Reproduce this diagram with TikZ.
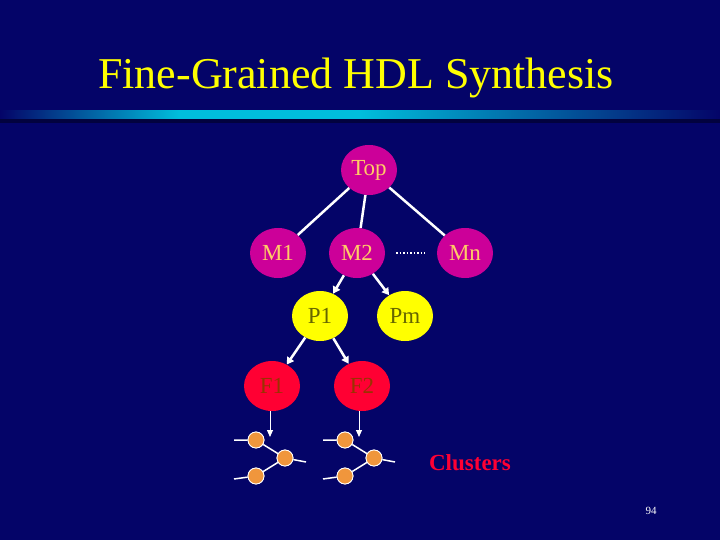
\documentclass[tikz,border=0pt]{standalone}
\usepackage{fontspec}
\setmainfont{Liberation Serif}
\usetikzlibrary{arrows.meta,shapes.geometric}
\definecolor{bg}{RGB}{4,4,104}
\definecolor{mag}{RGB}{204,0,153}
\definecolor{ylw}{RGB}{255,255,0}
\definecolor{rd}{RGB}{255,0,51}
\definecolor{tan}{RGB}{255,204,102}
\definecolor{olv}{RGB}{102,102,0}
\definecolor{brn}{RGB}{153,51,0}
\definecolor{org}{RGB}{240,150,60}
\definecolor{bar}{RGB}{0,190,220}
\tikzset{
 nd/.style={ellipse,minimum width=56pt,minimum height=50pt,inner sep=0pt,font=\fontsize{23}{23}\selectfont},
 mnode/.style={nd,fill=mag,text=tan},
 pnode/.style={nd,fill=ylw,text=olv},
 fnode/.style={nd,fill=rd,text=brn},
 edge/.style={white,line width=2.5pt},
 arr/.style={white,line width=2.5pt,-{Triangle[width=8pt,length=7pt]}},
 sarr/.style={white,line width=1pt,-{Triangle[width=6pt,length=7pt]}},
 dot/.style={circle,fill=org,draw=white,line width=0.8pt,minimum size=16pt,inner sep=0pt},
 wire/.style={white,line width=1.5pt}
}
\begin{document}
\begin{tikzpicture}[x=1pt,y=-1pt]
\fill[bg] (0,0) rectangle (720,540);
\useasboundingbox (0,0) rectangle (720,540);
\node[text=ylw,font=\fontsize{44}{44}\selectfont] (title) at (356,78) {Fine-Grained HDL Synthesis};
\shade[left color=bg,right color=bar,middle color=bar] (0,111) rectangle (360,121);
\shade[left color=bar,right color=bg] (360,111) rectangle (720,121);
\fill[bg!60!black] (0,119) rectangle (720,123);
\node[mnode] (top) at (369,170) {Top};
\node[mnode] (m1) at (278,253) {M1};
\node[mnode] (m2) at (357,253) {M2};
\node[mnode] (mn) at (465,253) {Mn};
\node[pnode] (p1) at (320,316) {P1};
\node[pnode] (pm) at (405,316) {Pm};
\node[fnode] (f1) at (272,386) {F1};
\node[fnode] (f2) at (362,386) {F2};
\coordinate (d1) at (396,253);
\coordinate (d2) at (425,253);
\draw[edge] (top) -- (m1);
\draw[edge] (top) -- (m2);
\draw[edge] (top) -- (mn);
\draw[white,line width=1.5pt,dotted] (d1) -- (d2);
\draw[arr] (m2) -- (p1);
\draw[arr] (m2) -- (pm);
\draw[arr] (p1) -- (f1);
\draw[arr] (p1) -- (f2);
\foreach \n/\f/\x in {a/f1/256,b/f2/345}{
 \node[dot] (\n1) at (\x,440) {};
 \node[dot] (\n2) at (\x+29,458) {};
 \node[dot] (\n3) at (\x,476) {};
 \coordinate (\n l1) at (\x-22,440);
 \coordinate (\n l3) at (\x-22,479);
 \coordinate (\n r2) at (\x+50,462);
 \coordinate (\n s) at (\x+14,411);
 \coordinate (\n t) at (\x+14,437);
 \draw[wire] (\n l1) -- (\n1) -- (\n2) -- (\n r2);
 \draw[wire] (\n l3) -- (\n3) -- (\n2);
 \node[dot] at (\n1) {};\node[dot] at (\n2) {};\node[dot] at (\n3) {};
 \draw[sarr] (\n s) -- (\n t);
}
\node[text=rd,font=\fontsize{23}{23}\selectfont\bfseries] (cl) at (470,463) {Clusters};
\node[text=white,font=\fontsize{11}{11}\selectfont] (pg) at (651,511) {94};
\end{tikzpicture}
\end{document}
